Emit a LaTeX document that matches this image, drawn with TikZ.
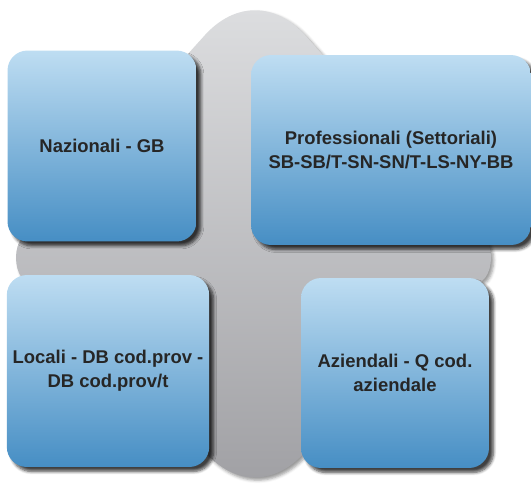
\documentclass[tikz,border=0pt]{standalone}
\usepackage{fontspec}
\setsansfont{Liberation Sans}
\usetikzlibrary{shadows.blur}
\definecolor{tiletop}{RGB}{190,221,242}
\definecolor{tilebot}{RGB}{70,142,196}
\definecolor{backtop}{RGB}{221,222,224}
\definecolor{backbot}{RGB}{160,160,164}
\tikzset{
  tile/.style={rounded corners=0.4cm, top color=tiletop, bottom color=tilebot,
    blur shadow={shadow xshift=2.5pt, shadow yshift=-2.5pt, shadow opacity=75, shadow blur steps=6},
    align=center, font=\sffamily\bfseries\fontsize{10.5}{13.6}\selectfont, text=black!85},
  backdrop/.style={top color=backtop, bottom color=backbot,
    blur shadow={shadow xshift=1.5pt, shadow yshift=-1.5pt, shadow opacity=40}}
}
\begin{document}
\begin{tikzpicture}[x=0.02cm,y=-0.02cm]
\useasboundingbox (0,0) rectangle (531,485);
\path[backdrop] (22,238) -- (205,35) .. controls (235,2) and (275,2) .. (305,35)
  -- (485,238) .. controls (493,247) and (493,268) .. (485,278)
  -- (305,452) .. controls (275,486) and (235,486) .. (205,452)
  -- (22,278) .. controls (14,268) and (14,247) .. (22,238) -- cycle;
\node[tile, minimum width=3.78cm, minimum height=3.82cm] (naz) at (102,146) {Nazionali - GB};
\node[tile, minimum width=5.6cm, minimum height=3.8cm] (prof) at (391,150) {Professionali (Settoriali)\\SB-SB/T-SN-SN/T-LS-NY-BB};
\node[tile, minimum width=3.78cm, minimum height=3.84cm] (loc) at (108,371) {Locali - DB cod.prov -\\DB cod.prov/t};
\node[tile, minimum width=3.76cm, minimum height=3.8cm] (azi) at (395,373) {Aziendali - Q cod.\\aziendale};
\end{tikzpicture}
\end{document}
